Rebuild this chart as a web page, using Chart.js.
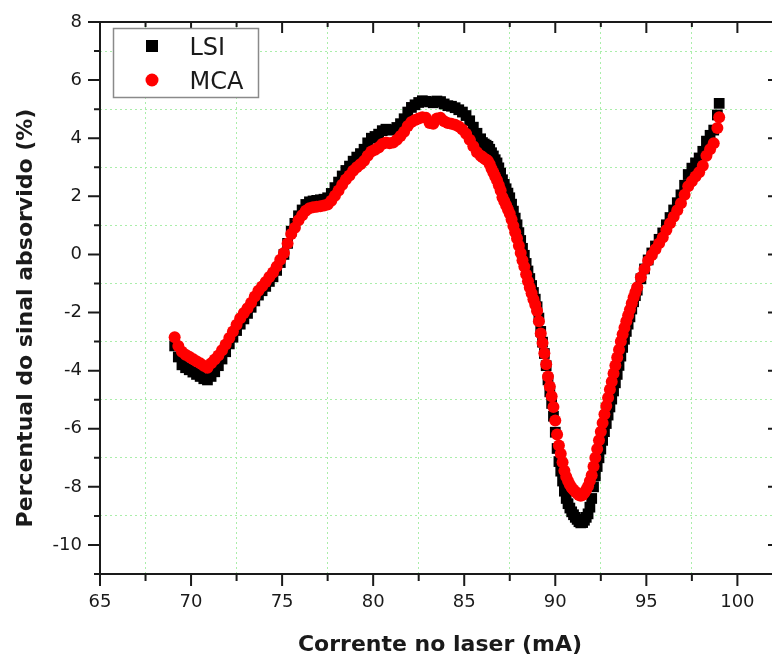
<!DOCTYPE html>
<html><head><meta charset="utf-8">
<script src="https://cdn.jsdelivr.net/npm/chart.js@4.4.1/dist/chart.umd.min.js"></script>
<style>html,body{margin:0;padding:0;background:#fff;overflow:hidden}#wrap{width:772px;height:655px;position:relative}canvas{display:block}</style>
</head><body><div id="wrap"><canvas id="c"></canvas></div>
<script>
// ---- data ----
const current = [
69.1,69.3,69.5,69.7,69.9,70.1,70.3,70.5,70.7,70.9,
71.1,71.3,71.5,71.7,71.9,72.1,72.3,72.5,72.7,72.9,
73.1,73.3,73.5,73.7,73.9,74.1,74.3,74.5,74.7,74.9,
75.1,75.3,75.5,75.7,75.9,76.1,76.3,76.5,76.7,76.9,
77.1,77.3,77.5,77.7,77.9,78.1,78.3,78.5,78.7,78.9,
79.1,79.3,79.5,79.7,79.9,80.1,80.3,80.5,80.7,80.9,
81.1,81.3,81.5,81.7,81.9,82.1,82.3,82.5,82.7,82.9,
83.1,83.3,83.5,83.7,83.9,84.1,84.3,84.5,84.7,84.9,
85.1,85.3,85.5,85.7,85.9,
86.0,86.1,86.2,86.3,86.4,86.5,86.6,86.7,86.8,86.9,
87.0,87.1,87.2,87.3,87.4,87.5,87.6,87.7,87.8,87.9,
88.0,88.1,88.2,88.3,88.4,88.5,88.6,88.7,88.8,88.9,
89.0,89.1,89.2,89.3,89.4,89.5,89.6,89.7,89.8,89.9,
90.0,90.1,90.2,90.3,90.4,90.5,90.6,90.7,90.8,90.9,
91.0,91.1,91.2,91.3,91.4,91.5,91.6,91.7,91.8,91.9,
92.0,92.1,92.2,92.3,92.4,92.5,92.6,92.7,92.8,92.9,
93.0,93.1,93.2,93.3,93.4,93.5,93.6,93.7,93.8,93.9,
94.0,94.1,94.2,94.3,94.4,94.5,
94.7,94.9,95.1,95.3,95.5,95.7,95.9,96.1,96.3,96.5,
96.7,96.9,97.1,97.3,97.5,97.7,97.9,98.1,98.3,98.5,
98.7,98.9,99.0
];
const lsi = [
-3.15,-3.53,-3.8,-3.9,-3.97,-4.05,-4.13,-4.2,-4.28,-4.32,
-4.2,-4.04,-3.83,-3.6,-3.35,-3.08,-2.85,-2.62,-2.4,-2.22,
-2.03,-1.82,-1.6,-1.4,-1.25,-1.1,-0.93,-0.77,-0.55,-0.28,
0.0,0.38,0.8,1.07,1.33,1.53,1.72,1.81,1.84,1.86,
1.88,1.9,1.95,2.1,2.3,2.49,2.7,2.89,3.04,3.21,
3.35,3.47,3.62,3.84,4.0,4.06,4.14,4.26,4.31,4.28,
4.29,4.37,4.5,4.67,4.9,5.06,5.15,5.23,5.29,5.27,
5.25,5.22,5.28,5.26,5.18,5.12,5.1,5.05,4.98,4.9,
4.78,4.6,4.38,4.17,3.98,
3.85,3.8,3.76,3.72,3.62,3.5,3.39,3.26,3.15,2.98,
2.8,2.57,2.41,2.26,2.11,1.95,1.73,1.49,1.25,1.02,
0.75,0.48,0.21,-0.03,-0.31,-0.57,-0.83,-1.07,-1.31,-1.54,
-1.8,-2.19,-2.65,-3.02,-3.41,-3.83,-4.32,-4.73,-5.13,-5.57,
-6.12,-6.68,-7.13,-7.46,-7.8,-8.15,-8.4,-8.58,-8.73,-8.86,
-8.96,-9.05,-9.12,-9.2,-9.24,-9.23,-9.15,-9.05,-8.93,-8.7,
-8.4,-8.0,-7.62,-7.3,-7.0,-6.7,-6.4,-6.1,-5.82,-5.53,
-5.25,-4.98,-4.7,-4.42,-4.13,-3.82,-3.5,-3.2,-2.92,-2.65,
-2.4,-2.15,-1.88,-1.63,-1.42,-1.23,
-0.84,-0.5,-0.19,0.05,0.29,0.52,0.74,1.02,1.27,1.53,
1.78,2.05,2.38,2.75,2.97,3.15,3.32,3.55,3.9,4.1,
4.28,4.8,5.2
];
const mca = [
-2.85,-3.15,-3.35,-3.45,-3.52,-3.6,-3.68,-3.75,-3.83,-3.9,
-3.75,-3.62,-3.48,-3.3,-3.1,-2.88,-2.65,-2.42,-2.2,-2.02,
-1.85,-1.66,-1.45,-1.25,-1.1,-0.95,-0.78,-0.62,-0.42,-0.18,
0.05,0.38,0.7,0.92,1.18,1.35,1.5,1.59,1.62,1.64,
1.66,1.68,1.72,1.85,2.02,2.2,2.4,2.58,2.72,2.88,
3.0,3.1,3.22,3.4,3.54,3.6,3.68,3.8,3.85,3.83,
3.85,3.95,4.08,4.22,4.42,4.56,4.63,4.68,4.72,4.7,
4.52,4.5,4.68,4.7,4.58,4.52,4.5,4.46,4.4,4.3,
4.15,3.95,3.72,3.52,3.4,
3.35,3.3,3.26,3.22,3.1,2.95,2.82,2.68,2.55,2.38,
2.2,1.97,1.83,1.69,1.55,1.4,1.2,0.98,0.76,0.55,
0.3,0.05,-0.2,-0.42,-0.68,-0.92,-1.14,-1.34,-1.54,-1.73,
-1.95,-2.3,-2.72,-3.05,-3.4,-3.78,-4.2,-4.55,-4.88,-5.25,
-5.72,-6.2,-6.58,-6.86,-7.15,-7.45,-7.65,-7.8,-7.93,-8.03,
-8.1,-8.17,-8.22,-8.28,-8.31,-8.28,-8.2,-8.1,-7.98,-7.8,
-7.6,-7.3,-7.0,-6.7,-6.4,-6.1,-5.8,-5.5,-5.22,-4.93,
-4.65,-4.38,-4.1,-3.82,-3.55,-3.28,-3.0,-2.75,-2.52,-2.3,
-2.1,-1.9,-1.68,-1.48,-1.3,-1.13,
-0.79,-0.5,-0.22,-0.02,0.18,0.38,0.58,0.84,1.07,1.3,
1.52,1.76,2.05,2.35,2.52,2.68,2.83,3.05,3.4,3.62,
3.83,4.35,4.72
];
const seriesNames = ['LSI', 'MCA'];
const xTitle = 'Corrente no laser (mA)';
const yTitle = 'Percentual do sinal absorvido (%)';
const xRange = [65, 101.9];
const yRange = [-11, 8];

// ---- styling ----
const FONT = 'DejaVu Sans';
const INK = '#1a1a1a';
const GRID = 'rgb(170,238,170)';

const framePlugin = {
  id: 'frame',
  afterDatasetsDraw(chart) {
    const {ctx, chartArea: a, scales: {x, y}} = chart;
    ctx.save();
    ctx.strokeStyle = INK;
    ctx.lineWidth = 2;
    ctx.beginPath();
    ctx.moveTo(a.left, a.top); ctx.lineTo(a.right, a.top);
    ctx.moveTo(a.left, a.top - 1); ctx.lineTo(a.left, a.bottom + 1);
    ctx.moveTo(a.left - 1, a.bottom); ctx.lineTo(a.right, a.bottom);
    ctx.stroke();
    ctx.beginPath();
    x.ticks.forEach(t => {
      const px = x.getPixelForValue(t.value);
      const major = t.value % 5 === 0;
      ctx.moveTo(px, a.bottom); ctx.lineTo(px, a.bottom + (major ? 12 : 7));
      ctx.moveTo(px, a.top); ctx.lineTo(px, a.top + (major ? 11 : 5));
    });
    y.ticks.forEach(t => {
      const py = y.getPixelForValue(t.value);
      const major = Math.abs(t.value % 2) === 0;
      ctx.moveTo(a.left, py); ctx.lineTo(a.left - (major ? 12 : 6), py);
      if (major) { ctx.moveTo(a.right, py); ctx.lineTo(a.right - 4, py); }
    });
    ctx.stroke();

    // legend
    const bx = a.left + 13.5, by = a.top + 6.5, bw = 145, bh = 69;
    ctx.fillStyle = '#fff';
    ctx.fillRect(bx, by, bw, bh);
    ctx.strokeStyle = '#8a8a8a';
    ctx.lineWidth = 1.5;
    ctx.strokeRect(bx, by, bw, bh);
    const ds = chart.data.datasets;
    const rows = [by + 17.5, by + 51.5];
    ds.forEach((d, i) => {
      const cy = rows[i], cx = bx + 38.5;
      ctx.fillStyle = d.pointBackgroundColor;
      if (d.pointStyle === 'rect') {
        ctx.fillRect(cx - 6, cy - 6, 12, 12);
      } else {
        ctx.beginPath(); ctx.arc(cx, cy, 6.5, 0, Math.PI * 2); ctx.fill();
      }
      ctx.fillStyle = INK;
      ctx.font = '24px "' + FONT + '"';
      ctx.textAlign = 'left';
      ctx.textBaseline = 'alphabetic';
      ctx.fillText(d.label, bx + 76, cy + 9);
    });

    // axis titles
    ctx.fillStyle = INK;
    ctx.font = 'bold 22px "' + FONT + '"';
    ctx.textAlign = 'center';
    ctx.textBaseline = 'alphabetic';
    ctx.fillText(xTitle, 440, 651);
    ctx.save();
    ctx.translate(32, 318);
    ctx.rotate(-Math.PI / 2);
    ctx.fillText(yTitle, 0, 0);
    ctx.restore();
    ctx.restore();
  }
};

new Chart(document.getElementById('c'), {
  type: 'scatter',
  data: {
    datasets: [
      {
        label: seriesNames[0],
        data: current.map((v, i) => ({x: v, y: lsi[i]})),
        pointStyle: 'rect',
        pointRadius: 7.6,
        pointBorderWidth: 0,
        pointBackgroundColor: '#000000',
        pointBorderColor: '#000000',
        order: 1
      },
      {
        label: seriesNames[1],
        data: current.map((v, i) => ({x: v, y: mca[i]})),
        pointStyle: 'circle',
        pointRadius: 6,
        pointBorderWidth: 0,
        pointBackgroundColor: '#ff0000',
        pointBorderColor: '#ff0000',
        order: 0
      }
    ]
  },
  options: {
    responsive: true,
    maintainAspectRatio: false,
    animation: false,
    devicePixelRatio: 1,
    layout: {autoPadding: false, padding: {top: 22, right: 0, left: 0, bottom: 0}},
    plugins: {legend: {display: false}, tooltip: {enabled: false}},
    scales: {
      x: {
        type: 'linear',
        min: xRange[0], max: xRange[1],
        afterFit(s) { s.height = 81; s.paddingLeft = 0; s.paddingRight = 0; },
        ticks: {
          stepSize: 2.5, includeBounds: false, autoSkip: false, maxRotation: 0,
          padding: 18, color: INK, font: {family: FONT, size: 18},
          callback: v => (v % 5 === 0 ? String(v) : '')
        },
        grid: {
          drawTicks: false,
          color: c => (c.tick && c.tick.value % 5 !== 0) ? GRID : 'rgba(0,0,0,0)',
          lineWidth: 1
        },
        border: {display: false, dash: [2, 3]}
      },
      y: {
        type: 'linear',
        min: yRange[0], max: yRange[1],
        afterFit(s) { s.width = 100; s.paddingTop = 0; s.paddingBottom = 0; },
        ticks: {
          stepSize: 1, includeBounds: false, autoSkip: false,
          padding: 18, color: INK, font: {family: FONT, size: 18},
          callback: v => (Math.abs(v % 2) === 0 ? String(v) : '')
        },
        grid: {
          drawTicks: false,
          color: c => (c.tick && Math.abs(c.tick.value % 2) === 1) ? GRID : 'rgba(0,0,0,0)',
          lineWidth: 1
        },
        border: {display: false, dash: [2, 3]}
      }
    }
  },
  plugins: [framePlugin]
});
</script>
</body></html>
